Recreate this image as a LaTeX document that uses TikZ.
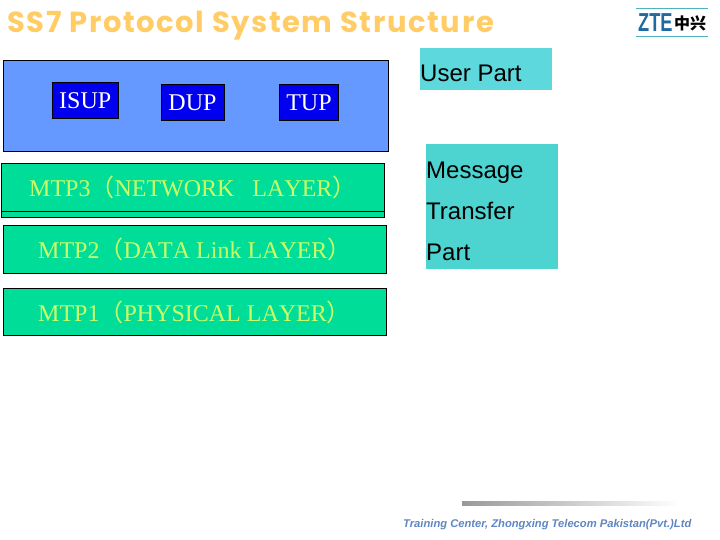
\documentclass[tikz,border=0pt]{standalone}
\usepackage{fontspec}
\setmainfont[Kerning=Off]{Liberation Serif}
\setsansfont{Liberation Sans}
\newfontfamily\cjkfont{Noto Sans CJK SC}
\newfontfamily\titlefont[LetterSpace=5.5]{Poppins}
\definecolor{titleorange}{HTML}{FFCC66}
\definecolor{upblue}{HTML}{6699FF}
\definecolor{partblue}{HTML}{0000EE}
\definecolor{mtpgreen}{HTML}{00DD99}
\definecolor{mtptext}{HTML}{CCFF66}
\definecolor{userteal}{HTML}{5DD8DC}
\definecolor{msgteal}{HTML}{4DD4D0}
\definecolor{logoblue}{HTML}{1F6A9F}
\definecolor{logoline}{HTML}{4FB3BF}
\definecolor{footblue}{HTML}{5F86C0}
\tikzset{
    box/.style={draw=black, line width=0.9pt, anchor=north west, inner sep=0pt},
    partbox/.style={box, fill=partblue, text=white, font=\fontsize{24}{24}\selectfont},
    layerbox/.style={box, fill=mtpgreen, minimum width=383pt, minimum height=47.5pt},
    layertext/.style={anchor=west, inner sep=0pt, text=mtptext, font=\fontsize{24}{24}\selectfont},
    sidebox/.style={anchor=north west, inner sep=0pt, minimum width=132pt},
    sidetext/.style={anchor=base west, inner sep=0pt, font=\sffamily\fontsize{24}{24}\selectfont}
}
\begin{document}
\begin{tikzpicture}[x=1pt, y=-1pt]
        \useasboundingbox (0,0) rectangle (720,540);

        % title and logo
        \node (title) [anchor=base west, inner sep=0pt, text=titleorange, font=\titlefont\bfseries\fontsize{29}{29}\selectfont] at (7,33) {SS7 Protocol System Structure};
        \draw [logoline, line width=0.7pt] (636,8.5) -- (708,8.5);
        \draw [logoline, line width=0.7pt] (636,36.5) -- (708,36.5);
        \node (zte) [anchor=base west, inner sep=0pt, xscale=0.7, text=logoblue, font=\sffamily\bfseries\fontsize{26}{26}\selectfont] at (638,32) {ZTE};
        \node (zhongxing) [anchor=base west, inner sep=0pt, font=\cjkfont\bfseries\fontsize{16}{16}\selectfont] at (674,30) {中兴};

        % user parts
        \node (up) [box, fill=upblue, minimum width=384.5pt, minimum height=90.5pt] at (3,60.5) {};
        \node (isup) [partbox, minimum width=65.5pt, minimum height=36pt] at (52,82.5) {ISUP};
        \node (dup) [partbox, minimum width=63pt, minimum height=36pt] at (160.5,84) {DUP};
        \node (tup) [partbox, minimum width=59pt, minimum height=36pt] at (279,84) {TUP};

        % message transfer part
        \node (mtp3under) [box, fill=mtpgreen, minimum width=383pt, minimum height=53.5pt] at (0.5,163.5) {};
        \draw [black, line width=0.9pt] (mtp3under.west |- 0,211) -- (mtp3under.east |- 0,211);
        \node (mtp2) [layerbox] at (2.5,225.5) {};
        \node (mtp1) [layerbox] at (2.5,287.5) {};
        \node (mtp3label) [layertext] at (29,187) {MTP3{\cjkfont（}NETWORK\ \ \ LAYER{\cjkfont）}};
        \node (mtp2label) [layertext] at (38,249) {MTP2{\cjkfont（}DATA Link LAYER{\cjkfont）}};
        \node (mtp1label) [layertext] at (38,312) {MTP1{\cjkfont（}PHYSICAL LAYER{\cjkfont）}};

        % side labels
        \node (user) [sidebox, fill=userteal, minimum height=42pt] at (420,48) {};
        \node (usertext) [sidetext] at (420,81.5) {User Part};
        \node (message) [sidebox, fill=msgteal, minimum height=125pt] at (426,144) {};
        \node (messagetext) [sidetext] at (426,178.5) {Message};
        \node (transfertext) [sidetext] at (426,219.5) {Transfer};
        \node (parttext) [sidetext] at (426,260.5) {Part};

        % footer
        \shade [left color=black!40, right color=white] (462,501) rectangle (680,505);
        \node (footer) [anchor=base west, inner sep=0pt, text=footblue, font=\sffamily\bfseries\itshape\fontsize{11.2}{11.2}\selectfont] at (403,527.5) {Training Center, Zhongxing Telecom Pakistan(Pvt.)Ltd};
    \end{tikzpicture}
\end{document}
